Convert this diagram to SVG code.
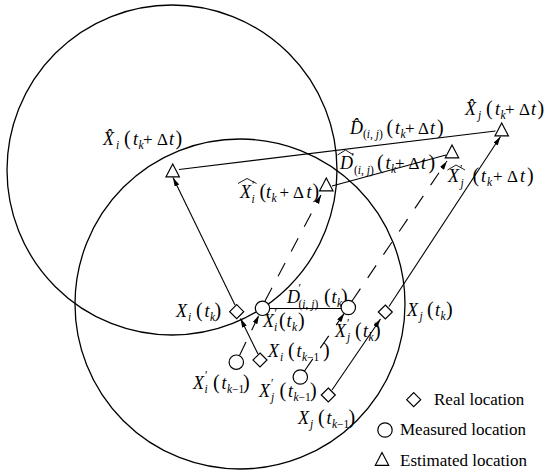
<svg xmlns="http://www.w3.org/2000/svg" width="554" height="476" viewBox="0 0 554 476">
<style>
.c{fill:none;stroke:#000;stroke-width:1.3}
.ln{fill:none;stroke:#000;stroke-width:1.1}
.ds{fill:none;stroke:#000;stroke-width:1.1;stroke-dasharray:15 13}
.mk{fill:#fff;stroke:#000;stroke-width:1.2}
.wh{fill:none;stroke:#000;stroke-width:0.9}
text{font-family:"Liberation Serif","Times New Roman",serif;fill:#000}
.m{font-style:italic;font-size:18px}
.sb{font-style:italic;font-size:11.5px}
.su{font-style:normal;font-size:11.5px}
.pr{font-style:normal;font-size:20px}
.op{font-style:normal;font-size:17px}
.lg{font-style:normal;font-size:17px}
</style>
<defs>
<marker id="ah" markerUnits="userSpaceOnUse" markerWidth="10" markerHeight="6" refX="9" refY="2.5" orient="auto"><path d="M0,0 L9,2.5 L0,5 Z" fill="#000"/></marker>
<path id="dia" d="M0,-7 L7,0 L0,7 L-7,0 Z"/>
<path id="tri" d="M0,-6.5 L6.7,6.3 L-6.7,6.3 Z"/>
</defs>

<g id="regions">
<circle class="c" cx="172" cy="170" r="165"/>
<circle class="c" cx="240" cy="304" r="165"/>
</g>

<g id="connectors">
<line class="ln" x1="179" y1="169.5" x2="495.5" y2="131"/>
<line class="ln" x1="332" y1="186" x2="446" y2="155"/>
<line class="ln" x1="270" y1="308.5" x2="341" y2="308.5"/>
<line class="ln" x1="235" y1="305" x2="173" y2="177.5" marker-end="url(#ah)"/>
<line class="ln" x1="258" y1="354" x2="240.5" y2="318.5" marker-end="url(#ah)"/>
<line class="ln" x1="332" y1="390" x2="380.5" y2="319" marker-end="url(#ah)"/>
<line class="ln" x1="389" y1="306.5" x2="500.5" y2="136.5" marker-end="url(#ah)"/>
<line class="ds" x1="239.5" y1="355.5" x2="259" y2="315" marker-end="url(#ah)"/>
<line class="ds" x1="304.3" y1="371.2" x2="344.3" y2="313.3" marker-end="url(#ah)"/>
<line class="ds" x1="265" y1="301" x2="321" y2="195" marker-end="url(#ah)"/>
<line class="ds" x1="352" y1="301" x2="447" y2="161" marker-end="url(#ah)"/>
</g>

<g id="Xhat_i">
<use href="#tri" class="mk" x="172.7" y="170.5"/>
<text class="m"><tspan x="103" y="145">X̂</tspan><tspan class="sb" x="116" y="149">i</tspan><tspan class="pr" x="124" y="145">(</tspan><tspan x="133" y="145">t</tspan><tspan class="sb" x="138.5" y="149">k</tspan><tspan class="op" x="143" y="145">+</tspan><tspan class="op" x="157" y="145">Δ</tspan><tspan x="169" y="145">t</tspan><tspan class="pr" x="175.5" y="145">)</tspan></text>
</g>

<g id="Xhat_j">
<use href="#tri" class="mk" x="501.7" y="129.5"/>
<text class="m"><tspan x="465" y="115">X̂</tspan><tspan class="sb" x="478" y="119">j</tspan><tspan class="pr" x="486" y="115">(</tspan><tspan x="495" y="115">t</tspan><tspan class="sb" x="500.5" y="119">k</tspan><tspan class="op" x="505" y="115">+</tspan><tspan class="op" x="519" y="115">Δ</tspan><tspan x="531" y="115">t</tspan><tspan class="pr" x="537.5" y="115">)</tspan></text>
</g>

<g id="Dhat_ij">
<text class="m"><tspan x="350" y="134">D̂</tspan><tspan class="su" x="363" y="138">(<tspan class="sb">i</tspan>, <tspan class="sb">j</tspan>)</tspan><tspan class="pr" x="386.5" y="134">(</tspan><tspan x="395" y="134">t</tspan><tspan class="sb" x="400.5" y="138">k</tspan><tspan class="op" x="405" y="134">+</tspan><tspan class="op" x="418" y="134">Δ</tspan><tspan x="430" y="134">t</tspan><tspan class="pr" x="437" y="134">)</tspan></text>
</g>

<g id="Dhatp_ij">
<text class="m"><tspan x="340" y="169">D</tspan><tspan class="su" x="351.5" y="161">′</tspan><tspan class="su" x="354" y="174">(<tspan class="sb">i</tspan>, <tspan class="sb">j</tspan>)</tspan><tspan class="pr" x="377" y="169">(</tspan><tspan x="385.5" y="169">t</tspan><tspan class="sb" x="391" y="173">k</tspan><tspan class="op" x="395" y="169">+</tspan><tspan class="op" x="408.5" y="169">Δ</tspan><tspan x="421" y="169">t</tspan><tspan class="pr" x="428.5" y="169">)</tspan></text>
<path class="wh" d="M337.5,155 L345.5,150 L353.5,155"/>
</g>

<g id="Xhatp_i">
<use href="#tri" class="mk" x="326.3" y="184.5"/>
<text class="m"><tspan x="240" y="198">X</tspan><tspan class="su" x="252" y="189">′</tspan><tspan class="sb" x="251.5" y="202.5">i</tspan><tspan class="pr" x="259.5" y="198">(</tspan><tspan x="266" y="198">t</tspan><tspan class="sb" x="271.5" y="202">k</tspan><tspan class="op" x="279.5" y="198">+</tspan><tspan class="op" x="293" y="198">Δ</tspan><tspan x="306.5" y="198">t</tspan><tspan class="pr" x="312.5" y="198">)</tspan></text>
<path class="wh" d="M238,183.5 L247,178.5 L256.5,183.5"/>
</g>

<g id="Xhatp_j">
<use href="#tri" class="mk" x="452" y="151.5"/>
<text class="m"><tspan x="448" y="182">X</tspan><tspan class="su" x="460" y="173">′</tspan><tspan class="sb" x="460.5" y="186.5">j</tspan><tspan class="pr" x="472.5" y="182">(</tspan><tspan x="481" y="182">t</tspan><tspan class="sb" x="487" y="186">k</tspan><tspan class="op" x="493" y="182">+</tspan><tspan class="op" x="507" y="182">Δ</tspan><tspan x="520" y="182">t</tspan><tspan class="pr" x="527" y="182">)</tspan></text>
<path class="wh" d="M447.5,170 L456,165 L465,170"/>
</g>

<g id="Xi_tk">
<use href="#dia" class="mk" x="236.7" y="311.7"/>
<text class="m"><tspan x="176" y="317">X</tspan><tspan class="sb" x="188" y="321">i</tspan><tspan class="pr" x="196" y="317">(</tspan><tspan x="204.5" y="317">t</tspan><tspan class="sb" x="210" y="321">k</tspan><tspan class="pr" x="214.5" y="317">)</tspan></text>
</g>

<g id="Xpi_tk">
<circle class="mk" cx="262.5" cy="308.3" r="7.2"/>
<text class="m"><tspan x="263" y="327">X</tspan><tspan class="su" x="274.5" y="317">′</tspan><tspan class="sb" x="274" y="331">i</tspan><tspan class="pr" x="279" y="327">(</tspan><tspan x="286.5" y="327">t</tspan><tspan class="sb" x="292" y="331">k</tspan><tspan class="pr" x="298" y="327">)</tspan></text>
</g>

<g id="Dp_ij">
<text class="m"><tspan x="287" y="303">D</tspan><tspan class="su" x="298.5" y="292">′</tspan><tspan class="su" x="298.5" y="308">(<tspan class="sb">i</tspan>, <tspan class="sb">j</tspan>)</tspan><tspan class="pr" x="324" y="303">(</tspan><tspan x="331.5" y="303">t</tspan><tspan class="sb" x="337" y="307">k</tspan><tspan class="pr" x="341" y="303">)</tspan></text>
</g>

<g id="Xpj_tk">
<circle class="mk" cx="348.3" cy="307.5" r="7.2"/>
<text class="m"><tspan x="335" y="337">X</tspan><tspan class="su" x="347" y="327">′</tspan><tspan class="sb" x="347" y="341">j</tspan><tspan class="pr" x="355" y="337">(</tspan><tspan x="363" y="337">t</tspan><tspan class="sb" x="368.5" y="341">k</tspan><tspan class="pr" x="374" y="337">)</tspan></text>
</g>

<g id="Xj_tk">
<use href="#dia" class="mk" x="385.3" y="312"/>
<text class="m"><tspan x="407" y="316">X</tspan><tspan class="sb" x="419.5" y="320">j</tspan><tspan class="pr" x="427" y="316">(</tspan><tspan x="435" y="316">t</tspan><tspan class="sb" x="440.5" y="320">k</tspan><tspan class="pr" x="446" y="316">)</tspan></text>
</g>

<g id="Xi_tk1">
<use href="#dia" class="mk" x="260" y="360"/>
<text class="m"><tspan x="268" y="357">X</tspan><tspan class="sb" x="280" y="361">i</tspan><tspan class="pr" x="288" y="357">(</tspan><tspan x="296.5" y="357">t</tspan><tspan class="sb" x="302" y="361">k<tspan class="su">−1</tspan></tspan><tspan class="pr" x="323" y="357">)</tspan></text>
</g>

<g id="Xpi_tk1">
<circle class="mk" cx="236.3" cy="362.2" r="7.2"/>
<text class="m"><tspan x="193" y="389">X</tspan><tspan class="su" x="205" y="379">′</tspan><tspan class="sb" x="204.5" y="393">i</tspan><tspan class="pr" x="213" y="389">(</tspan><tspan x="221.5" y="389">t</tspan><tspan class="sb" x="227" y="393">k<tspan class="su">−1</tspan></tspan><tspan class="pr" x="243" y="389">)</tspan></text>
</g>

<g id="Xpj_tk1">
<circle class="mk" cx="300.3" cy="377" r="7.2"/>
<text class="m"><tspan x="259" y="397">X</tspan><tspan class="su" x="271" y="387">′</tspan><tspan class="sb" x="271" y="401">j</tspan><tspan class="pr" x="279.5" y="397">(</tspan><tspan x="288" y="397">t</tspan><tspan class="sb" x="293.5" y="401">k<tspan class="su">−1</tspan></tspan><tspan class="pr" x="310" y="397">)</tspan></text>
</g>

<g id="Xj_tk1">
<use href="#dia" class="mk" x="328.3" y="395"/>
<text class="m"><tspan x="298" y="424">X</tspan><tspan class="sb" x="310" y="428">j</tspan><tspan class="pr" x="318" y="424">(</tspan><tspan x="326.5" y="424">t</tspan><tspan class="sb" x="332" y="428">k<tspan class="su">−1</tspan></tspan><tspan class="pr" x="348.5" y="424">)</tspan></text>
</g>

<g id="legend">
<use href="#dia" class="mk" x="413.7" y="399.7"/>
<text class="lg" x="434" y="405">Real location</text>
<circle class="mk" cx="385" cy="430" r="7.2"/>
<text class="lg" x="400" y="435">Measured location</text>
<use href="#tri" class="mk" x="382" y="459"/>
<text class="lg" x="400" y="466">Estimated location</text>
</g>
</svg>
